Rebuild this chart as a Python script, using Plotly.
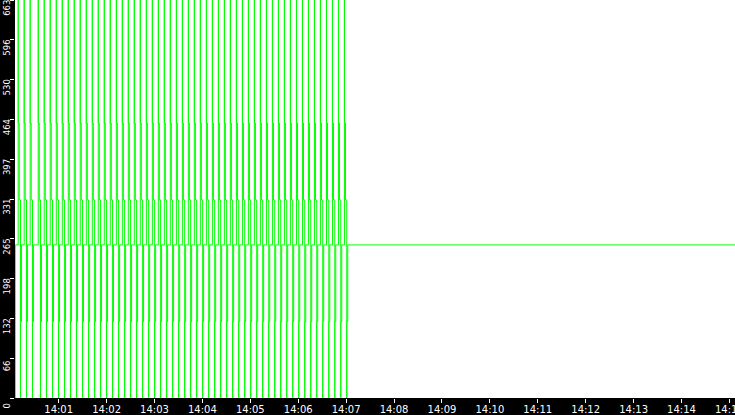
import plotly.graph_objects as go
import pandas as pd

# start of every pulse cycle, seconds after 14:00:00
cycle_starts = [9.3, 16.8, 24.3,
                34.4, 41.9, 49.4, 57.0, 64.5, 72.0, 79.5, 87.0, 94.6, 102.1,
                109.6, 117.1, 124.6, 132.2, 139.7, 147.2, 154.7, 162.2, 169.8, 177.3,
                184.8, 192.3, 199.8, 207.4, 214.9, 222.4, 229.9, 237.4, 245.0, 252.5,
                260.0, 267.5, 275.0, 282.6, 290.1, 297.6, 305.1, 312.6, 320.2, 327.7,
                335.2, 342.7, 350.2, 357.8, 365.3, 372.8, 380.3, 387.8, 395.4, 402.9,
                410.4, 417.9]

# one cycle of the stepped waveform: time offset (s) and level
step_offsets = [0.0, 0.0, 1.3, 2.9, 2.9, 4.1]
step_levels = [663, 458, 330, 0, 127, 255]

# first sample at left edge and last sample at right edge
first_sample = (5.6, [0, 255])
last_sample = (910.0, 255)

y_tickvals = [0, 66.3, 132.6, 198.9, 265.2, 331.5, 397.8, 464.1, 530.4, 596.7, 663]
y_ticktext = ['0', '66', '132', '198', '265', '331', '397', '464', '530', '596', '663']

base = pd.Timestamp('2024-01-01 14:00:00')

xs, ys = [], []
for lv in first_sample[1]:
    xs.append(base + pd.Timedelta(seconds=first_sample[0]))
    ys.append(lv)
for t in cycle_starts:
    for off, lv in zip(step_offsets, step_levels):
        xs.append(base + pd.Timedelta(seconds=t + off))
        ys.append(lv)
xs.append(base + pd.Timedelta(seconds=last_sample[0]))
ys.append(last_sample[1])

fig = go.Figure()
fig.add_trace(go.Scatter(x=xs, y=ys, mode='lines', line=dict(color='#00ff00', width=1, shape='hv'),
                         showlegend=False, hoverinfo='skip'))

fig.update_layout(
    width=735, height=415,
    margin=dict(l=15, r=0, t=0, b=17, autoexpand=False),
    paper_bgcolor='black',
    plot_bgcolor='white',
    font=dict(family='DejaVu Sans', size=10, color='white'),
    xaxis=dict(
        range=[base + pd.Timedelta(seconds=5.3), base + pd.Timedelta(seconds=907)],
        tickformat='%H:%M', dtick=60000,
        ticks='outside', ticklen=4, tickcolor='white',
        ticklabelstandoff=-2, ticklabeloverflow='allow',
        showgrid=False, zeroline=False, showline=False, automargin=False,
    ),
    yaxis=dict(
        range=[0, 663],
        tickvals=y_tickvals, ticktext=y_ticktext,
        tickfont=dict(size=8.5),
        tickangle=-90, ticklabelshift=9, ticklabelstandoff=-3,
        ticklabeloverflow='allow',
        ticks='outside', ticklen=4, tickcolor='white',
        showgrid=False, zeroline=False, showline=False, automargin=False,
    ),
)

# page has a default body margin; drop it so the chart fills the window
fig.write_html("out.html", config={'displayModeBar': False},
               post_script="document.body.style.margin='0';document.body.style.overflow='hidden';")
